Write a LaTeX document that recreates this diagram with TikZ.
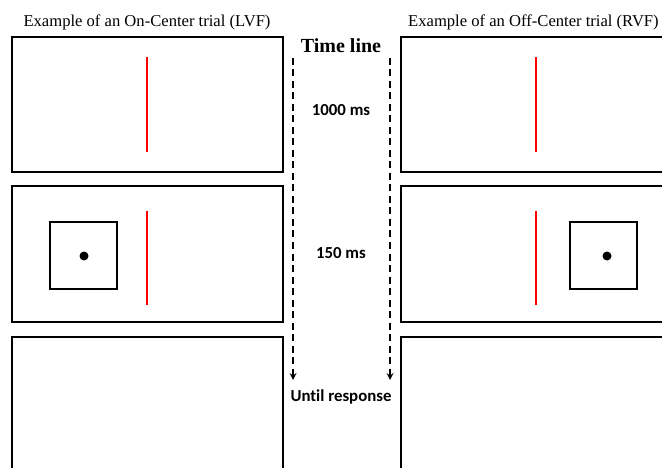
\documentclass[tikz,border=0pt]{standalone}
\usepackage{fontspec}
\setmainfont{Liberation Serif}
\newfontfamily\calibrifont[Ligatures=NoCommon]{Carlito}
\usepackage{tikz}
\usetikzlibrary{arrows, positioning}

\begin{document}
\begin{tikzpicture}[x=1pt, y=-1pt,
  screen/.style={draw=black, line width=2.3pt},
  cue/.style={draw=black, line width=2.8pt},
  target/.style={draw=red, line width=2.5pt},
  dot/.style={fill=black, shape=circle, inner sep=0pt, minimum size=9pt},
  title/.style={font=\fontsize{16.6}{18}\selectfont, inner sep=0pt},
  timing/.style={font=\calibrifont\bfseries\fontsize{16.8}{18}\selectfont, inner sep=0pt},
  timeArrow/.style={-stealth, line width=2pt, dash pattern=on 7pt off 4.5pt}
]
	\useasboundingbox (0,0) rectangle (662,468);
	\clip (0,0) rectangle (662,468);

%------------- Titles
	\node[title] (T_On) at (147, 22) {Example of an On-Center trial (LVF)};
	\node[title, anchor=west] (T_Off) at (408, 22) {Example of an Off-Center trial (RVF)};

%------------- On-Center (left)
	\draw[screen] (12, 37) rectangle (283, 172);
	\draw[screen] (12, 186) rectangle (283, 322);
	\draw[screen] (12, 337) rectangle (283, 480);

	\draw[target] (147, 57) -- (147, 152);
	\draw[target] (147, 211) -- (147, 305);
	\draw[cue] (50, 222) rectangle (117, 289);
	\node[dot] (L_Dot) at (84, 256) {};

%------------- Off-Center (right)
	\draw[screen] (401, 37) rectangle (680, 172);
	\draw[screen] (401, 186) rectangle (680, 322);
	\draw[screen] (401, 337) rectangle (680, 480);

	\draw[target] (536, 57) -- (536, 152);
	\draw[target] (536, 211) -- (536, 305);
	\draw[cue] (570, 222) rectangle (637, 289);
	\node[dot] (R_Dot) at (607, 256) {};

%------------- Time line
	\node[font=\bfseries\fontsize{20}{22}\selectfont, inner sep=0pt] (TL) at (341, 46) {Time line};
	\node[timing] (TL_1000) at (341, 110) {1000 ms};
	\node[timing] (TL_150) at (341, 253) {150 ms};
	\node[timing] (TL_Until) at (341, 397) {Until response};

	\coordinate (TL_L1) at (293, 58);
	\coordinate (TL_L2) at (293, 380);
	\coordinate (TL_R1) at (390, 58);
	\coordinate (TL_R2) at (390, 380);
	\draw[timeArrow] (TL_L1) -- (TL_L2);
	\draw[timeArrow] (TL_R1) -- (TL_R2);

\end{tikzpicture}
\end{document}
